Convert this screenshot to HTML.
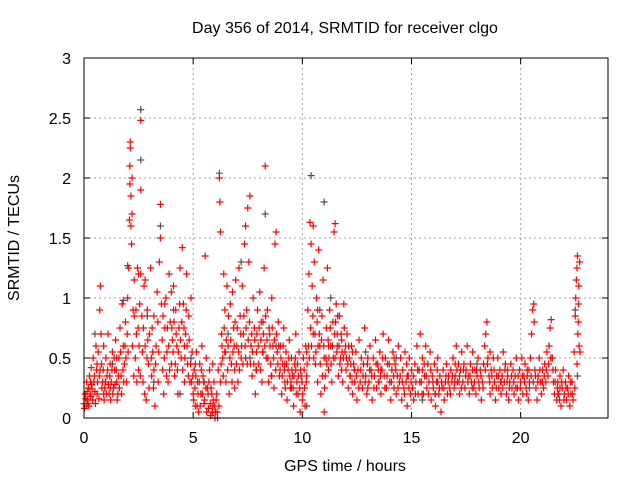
<!DOCTYPE html>
<html><head><meta charset="utf-8">
<style>
body{margin:0;background:#fff;}
svg text{font-family:"Liberation Sans",sans-serif;font-size:16px;fill:#000;}
</style></head>
<body>
<svg id="chart" width="640" height="480" viewBox="0 0 640 480" xmlns="http://www.w3.org/2000/svg">
<rect width="640" height="480" fill="#fff"/>
<text x="345" y="33" text-anchor="middle">Day 356 of 2014, SRMTID for receiver clgo</text>
<text x="345" y="471" text-anchor="middle">GPS time / hours</text>
<text transform="translate(19,238) rotate(-90)" text-anchor="middle">SRMTID / TECUs</text>
<g id="grid"></g>
<g id="gray"></g>
<g id="red"></g>
<g id="axes"></g>
</svg>
<script>
const xTicks=[0,5,10,15,20];
const yTicks=[0,0.5,1,1.5,2,2.5,3];
const yTickLabels=["0","0.5","1","1.5","2","2.5","3"];
const grayData=[[2.6,2.57],[2.6,2.15],[2.0,1.27],[1.8,0.98],[2.9,0.85],[3.5,1.6],[4.1,0.9],[4.9,0.5],[5.5,0.3],[6.2,2.04],[6.6,0.7],[7.2,1.3],[7.6,0.5],[8.3,1.7],[8.8,0.6],[10.4,2.02],[11.0,1.8],[10.8,0.9],[11.3,1.0],[11.6,0.6],[12.4,0.4],[13.5,0.3],[14.3,0.5],[16.1,0.2],[17.2,0.35],[19.1,0.3],[20.4,0.25],[21.7,0.2],[22.5,0.9],[22.6,0.35],[0.5,0.7],[1.3,0.45],[3.2,0.3],[4.4,0.2],[5.9,0.05],[9.5,0.25],[10.2,0.1],[12.9,0.55],[15.5,0.15],[18.0,0.45]];
const redData=[
[0.0,0.12],[0.05,0.2],[0.1,0.1],[0.12,0.3],[0.15,0.15],[0.2,0.25],[0.22,0.1],[0.25,0.35],[0.3,0.18],[0.33,0.42],[0.35,0.28],[0.4,0.15],[0.42,0.5],[0.45,0.3],[0.5,0.22],[0.55,0.6],[0.58,0.4],[0.6,0.2],[0.65,0.55],[0.7,0.35],[0.72,0.9],[0.75,1.1],[0.78,0.7],[0.8,0.45],[0.85,0.3],[0.9,0.6],[0.95,0.25],[1.0,0.5],[1.05,0.35],[1.1,0.7],[1.15,0.2],[1.2,0.45],[1.25,0.3],[1.3,0.55],[1.35,0.25],[1.4,0.4],[1.45,0.65],[1.5,0.3],[1.55,0.2],[1.6,0.5],[1.65,0.75],[1.7,0.35],[1.75,0.95],[1.8,0.6],[1.85,0.45],[1.9,0.8],[1.95,0.3],[2.0,1.0],[2.05,1.25],[2.08,1.65],[2.1,1.95],[2.1,2.1],[2.12,2.25],[2.12,2.3],[2.15,1.85],[2.15,1.6],[2.18,1.45],[2.2,2.0],[2.2,1.7],[2.25,0.9],[2.3,1.15],[2.35,0.5],[2.4,0.7],[2.45,1.25],[2.5,0.4],[2.55,0.95],[2.6,2.48],[2.6,1.9],[2.6,1.2],[2.65,0.85],[2.7,0.3],[2.75,1.1],[2.8,0.6],[2.85,0.15],[2.9,0.9],[2.95,0.45],[3.0,0.7],[3.05,1.25],[3.1,0.35],[3.15,0.55],[3.2,0.85],[3.25,0.1],[3.3,0.6],[3.35,1.05],[3.4,0.3],[3.45,1.3],[3.5,1.78],[3.5,1.5],[3.55,0.95],[3.6,0.4],[3.65,0.2],[3.7,0.75],[3.75,1.0],[3.8,0.55],[3.85,0.3],[3.9,1.2],[3.95,0.8],[4.0,0.45],[4.05,0.65],[4.1,1.1],[4.15,0.35],[4.2,0.9],[4.25,0.6],[4.3,0.2],[4.35,0.75],[4.4,1.25],[4.45,0.5],[4.5,1.42],[4.55,0.95],[4.6,0.3],[4.65,0.7],[4.7,1.2],[4.75,0.45],[4.8,0.85],[4.85,0.3],[4.9,1.0],[4.95,0.55],[5.0,0.2],[5.05,0.4],[5.1,0.1],[5.15,0.55],[5.2,0.3],[5.25,0.05],[5.3,0.45],[5.35,0.2],[5.4,0.6],[5.45,0.35],[5.5,0.12],[5.55,1.35],[5.6,0.5],[5.65,0.25],[5.7,0.08],[5.75,0.4],[5.8,0.02],[5.85,0.2],[5.9,0.1],[5.95,0.3],[6.0,0.0],[6.05,0.15],[6.1,0.05],[6.15,0.4],[6.2,2.0],[6.22,1.8],[6.25,1.55],[6.25,0.3],[6.3,0.7],[6.35,0.5],[6.4,1.2],[6.45,0.9],[6.5,0.3],[6.55,1.1],[6.6,0.6],[6.65,0.2],[6.7,0.95],[6.75,0.45],[6.8,1.05],[6.85,0.75],[6.9,0.4],[6.95,1.15],[7.0,0.6],[7.05,0.3],[7.1,1.25],[7.15,0.85],[7.2,0.5],[7.25,1.1],[7.3,0.7],[7.35,1.45],[7.4,1.6],[7.45,0.9],[7.5,1.75],[7.55,1.3],[7.6,1.85],[7.65,0.6],[7.7,0.35],[7.75,1.0],[7.8,0.75],[7.85,0.2],[7.9,0.55],[7.95,0.9],[8.0,0.45],[8.05,1.05],[8.1,0.65],[8.15,0.3],[8.2,0.8],[8.25,1.25],[8.3,2.1],[8.35,0.5],[8.4,0.9],[8.45,0.3],[8.5,0.7],[8.55,0.45],[8.6,1.0],[8.65,0.6],[8.7,0.25],[8.75,1.45],[8.8,1.55],[8.85,0.55],[8.9,0.8],[8.95,0.35],[9.0,0.6],[9.05,0.2],[9.1,0.45],[9.15,0.75],[9.2,0.3],[9.25,0.55],[9.3,0.15],[9.35,0.4],[9.4,0.65],[9.45,0.25],[9.5,0.5],[9.55,0.35],[9.6,0.1],[9.65,0.45],[9.7,0.7],[9.75,0.3],[9.8,0.2],[9.85,0.55],[9.9,0.05],[9.95,0.35],[10.0,0.15],[10.05,0.5],[10.1,0.25],[10.15,0.6],[10.2,0.35],[10.25,0.9],[10.3,1.2],[10.35,1.63],[10.4,1.45],[10.45,1.1],[10.5,1.6],[10.5,0.7],[10.55,1.3],[10.6,0.45],[10.65,1.0],[10.7,0.3],[10.75,1.4],[10.8,0.6],[10.85,0.2],[10.9,0.85],[10.95,1.15],[11.0,0.5],[11.0,0.05],[11.05,0.35],[11.1,0.75],[11.15,1.25],[11.2,0.4],[11.25,0.9],[11.3,0.6],[11.35,0.3],[11.4,0.8],[11.45,1.55],[11.5,1.62],[11.5,0.5],[11.55,0.95],[11.6,0.7],[11.65,0.35],[11.7,0.85],[11.75,0.5],[11.8,0.65],[11.85,0.3],[11.9,0.95],[11.95,0.55],[12.0,0.4],[12.05,0.7],[12.1,0.25],[12.15,0.5],[12.2,0.35],[12.25,0.6],[12.3,0.2],[12.35,0.45],[12.4,0.3],[12.45,0.55],[12.5,0.15],[12.55,0.4],[12.6,0.65],[12.65,0.3],[12.7,0.5],[12.75,0.25],[12.8,0.45],[12.85,0.75],[12.9,0.35],[12.95,0.2],[13.0,0.5],[13.05,0.3],[13.1,0.6],[13.15,0.4],[13.2,0.15],[13.25,0.5],[13.3,0.35],[13.35,0.65],[13.4,0.25],[13.45,0.45],[13.5,0.3],[13.55,0.55],[13.6,0.2],[13.65,0.4],[13.7,0.7],[13.75,0.35],[13.8,0.5],[13.85,0.25],[13.9,0.45],[13.95,0.65],[14.0,0.3],[14.05,0.15],[14.1,0.4],[14.15,0.55],[14.2,0.25],[14.25,0.45],[14.3,0.2],[14.35,0.35],[14.4,0.6],[14.45,0.3],[14.5,0.5],[14.55,0.15],[14.6,0.4],[14.65,0.25],[14.7,0.55],[14.75,0.3],[14.8,0.1],[14.85,0.35],[14.9,0.5],[14.95,0.2],[15.0,0.4],[15.05,0.25],[15.1,0.15],[15.15,0.45],[15.2,0.3],[15.25,0.6],[15.3,0.2],[15.35,0.4],[15.4,0.7],[15.45,0.3],[15.5,0.5],[15.55,0.2],[15.6,0.35],[15.65,0.6],[15.7,0.25],[15.75,0.45],[15.8,0.3],[15.85,0.55],[15.9,0.15],[15.95,0.35],[16.0,0.25],[16.05,0.45],[16.1,0.1],[16.15,0.3],[16.2,0.5],[16.25,0.2],[16.3,0.35],[16.35,0.05],[16.4,0.25],[16.45,0.4],[16.5,0.15],[16.55,0.3],[16.6,0.45],[16.65,0.2],[16.7,0.35],[16.75,0.25],[16.8,0.4],[16.85,0.3],[16.9,0.5],[16.95,0.25],[17.0,0.35],[17.05,0.6],[17.1,0.3],[17.15,0.45],[17.2,0.2],[17.25,0.4],[17.3,0.55],[17.35,0.3],[17.4,0.45],[17.45,0.25],[17.5,0.4],[17.55,0.6],[17.6,0.35],[17.65,0.2],[17.7,0.45],[17.75,0.3],[17.8,0.55],[17.85,0.25],[17.9,0.4],[17.95,0.2],[18.0,0.35],[18.05,0.5],[18.1,0.25],[18.15,0.4],[18.2,0.15],[18.25,0.3],[18.3,0.45],[18.35,0.6],[18.4,0.7],[18.45,0.8],[18.5,0.5],[18.55,0.35],[18.6,0.2],[18.65,0.4],[18.7,0.25],[18.75,0.5],[18.8,0.3],[18.85,0.15],[18.9,0.35],[18.95,0.5],[19.0,0.25],[19.05,0.4],[19.1,0.2],[19.15,0.35],[19.2,0.55],[19.25,0.3],[19.3,0.45],[19.35,0.2],[19.4,0.35],[19.45,0.15],[19.5,0.3],[19.55,0.45],[19.6,0.25],[19.65,0.4],[19.7,0.2],[19.75,0.35],[19.8,0.5],[19.85,0.25],[19.9,0.15],[19.95,0.4],[20.0,0.3],[20.05,0.5],[20.1,0.2],[20.15,0.35],[20.2,0.45],[20.25,0.25],[20.3,0.4],[20.35,0.15],[20.4,0.3],[20.45,0.5],[20.5,0.7],[20.55,0.9],[20.6,0.95],[20.62,0.8],[20.65,0.4],[20.7,0.25],[20.75,0.15],[20.8,0.35],[20.85,0.5],[20.9,0.3],[20.95,0.2],[21.0,0.4],[21.05,0.25],[21.1,0.45],[21.15,0.3],[21.2,0.55],[21.25,0.35],[21.3,0.6],[21.35,0.75],[21.4,0.82],[21.45,0.5],[21.5,0.3],[21.55,0.2],[21.6,0.4],[21.65,0.15],[21.7,0.3],[21.75,0.2],[21.8,0.35],[21.85,0.1],[21.9,0.25],[21.95,0.4],[22.0,0.2],[22.05,0.3],[22.1,0.15],[22.15,0.25],[22.2,0.35],[22.25,0.1],[22.3,0.2],[22.35,0.3],[22.4,0.15],[22.45,0.55],[22.5,0.85],[22.52,1.0],[22.55,1.15],[22.58,1.25],[22.6,1.35],[22.62,0.7],[22.65,0.95],[22.68,0.6],[22.7,1.3],
[0.3,0.3],[0.6,0.45],[0.9,0.2],[1.2,0.25],[1.5,0.5],[2.3,0.85],[2.5,1.2],[2.8,1.15],[3.2,0.4],[3.7,0.95],[4.0,1.05],[4.6,0.6],[5.1,0.45],[5.9,0.45],[6.45,0.55],[6.9,0.25],[7.4,0.5],[7.9,0.4],[8.2,0.55],[8.6,0.35],[9.2,0.45],[9.7,0.4],[10.2,0.55],[10.7,0.9],[11.2,0.6],[11.8,0.4],[12.3,0.55],[13.0,0.25],[13.6,0.4],[14.2,0.5],[14.8,0.35],[15.5,0.4],[16.2,0.3],[17.0,0.45],[17.8,0.4],[18.6,0.55],[19.4,0.4],[20.3,0.35],[21.0,0.3],[21.8,0.25]
];
const redData2=[
[0.02,0.08],[0.08,0.16],[0.14,0.22],[0.18,0.12],[0.28,0.2],[0.37,0.24],[0.48,0.35],[0.52,0.12],[0.62,0.3],[0.68,0.16],[0.74,0.4],[0.82,0.25],[0.88,0.4],[0.92,0.15],[0.98,0.3],[1.02,0.2],[1.08,0.4],[1.12,0.28],[1.18,0.35],[1.22,0.15],[1.28,0.4],[1.32,0.2],[1.38,0.5],[1.42,0.28],[1.48,0.4],[1.52,0.15],[1.58,0.35],[1.62,0.25],[1.68,0.55],[1.72,0.2],[1.78,0.4],[1.82,0.3],[1.88,0.6],[1.92,0.5],[1.98,0.7],[2.02,0.55],[2.22,0.6],[2.28,0.35],[2.38,0.9],[2.42,0.3],[2.48,0.75],[2.52,0.6],[2.58,0.35],[2.68,0.55],[2.72,0.75],[2.78,0.2],[2.88,0.5],[2.92,0.65],[2.98,0.25],[3.08,0.5],[3.12,0.75],[3.18,0.25],[3.28,0.45],[3.38,0.8],[3.42,0.55],[3.58,0.65],[3.62,0.85],[3.68,0.5],[3.78,0.35],[3.82,0.75],[3.88,0.6],[3.92,0.4],[4.02,0.75],[4.08,0.55],[4.12,0.8],[4.18,0.45],[4.22,0.7],[4.28,0.4],[4.32,0.55],[4.38,0.95],[4.42,0.65],[4.48,0.8],[4.52,0.4],[4.58,0.75],[4.62,0.5],[4.68,0.9],[4.72,0.6],[4.78,0.35],[4.82,0.65],[4.88,0.45],[4.92,0.3],[4.98,0.35],[5.02,0.15],[5.08,0.25],[5.12,0.35],[5.18,0.1],[5.22,0.2],[5.28,0.3],[5.32,0.1],[5.38,0.4],[5.42,0.2],[5.48,0.3],[5.52,0.15],[5.58,0.25],[5.62,0.05],[5.68,0.2],[5.72,0.3],[5.78,0.12],[5.82,0.25],[5.88,0.05],[5.92,0.15],[5.98,0.1],[6.02,0.05],[6.08,0.2],[6.12,0.0],[6.18,0.1],[6.28,0.45],[6.32,0.6],[6.38,0.35],[6.42,0.75],[6.48,0.55],[6.52,0.65],[6.58,0.4],[6.62,0.85],[6.68,0.5],[6.72,0.65],[6.78,0.3],[6.82,0.55],[6.88,0.6],[6.92,0.8],[6.98,0.45],[7.02,0.75],[7.08,0.55],[7.12,0.4],[7.18,0.7],[7.22,0.6],[7.28,0.45],[7.32,0.85],[7.38,0.6],[7.42,0.75],[7.48,0.45],[7.52,0.65],[7.58,0.8],[7.62,0.45],[7.68,0.7],[7.72,0.55],[7.78,0.45],[7.82,0.65],[7.88,0.4],[7.92,0.7],[7.98,0.6],[8.02,0.75],[8.08,0.4],[8.12,0.8],[8.18,0.55],[8.22,0.7],[8.28,0.6],[8.32,0.85],[8.38,0.65],[8.42,0.5],[8.48,0.75],[8.52,0.6],[8.58,0.35],[8.62,0.75],[8.68,0.5],[8.72,0.65],[8.78,0.4],[8.82,0.7],[8.88,0.45],[8.92,0.6],[8.98,0.4],[9.02,0.5],[9.08,0.35],[9.12,0.6],[9.18,0.4],[9.22,0.25],[9.28,0.45],[9.32,0.3],[9.38,0.5],[9.42,0.35],[9.48,0.3],[9.52,0.4],[9.58,0.25],[9.62,0.35],[9.68,0.5],[9.72,0.2],[9.78,0.45],[9.82,0.35],[9.88,0.25],[9.92,0.4],[9.98,0.3],[10.02,0.2],[10.08,0.4],[10.12,0.1],[10.18,0.3],[10.22,0.45],[10.28,0.6],[10.32,0.5],[10.38,0.75],[10.42,0.6],[10.48,0.85],[10.52,0.5],[10.58,0.7],[10.62,0.55],[10.68,0.8],[10.72,0.6],[10.78,0.7],[10.82,0.45],[10.88,0.65],[10.92,0.35],[10.98,0.6],[11.02,0.25],[11.08,0.5],[11.12,0.45],[11.18,0.65],[11.22,0.5],[11.28,0.75],[11.32,0.45],[11.38,0.6],[11.42,0.5],[11.48,0.7],[11.52,0.8],[11.58,0.55],[11.62,0.85],[11.68,0.6],[11.72,0.45],[11.78,0.7],[11.82,0.55],[11.88,0.5],[11.92,0.75],[11.98,0.6],[12.02,0.5],[12.08,0.45],[12.12,0.6],[12.18,0.35],[12.22,0.45],[12.28,0.3],[12.38,0.4],[12.48,0.35],[12.58,0.25],[12.68,0.4],[12.78,0.35],[12.88,0.3],[12.98,0.45],[13.08,0.4],[13.18,0.35],[13.28,0.25],[13.38,0.45],[13.48,0.4],[13.58,0.35],[13.68,0.5],[13.78,0.25],[13.88,0.35],[13.98,0.45],[14.08,0.3],[14.18,0.35],[14.28,0.4],[14.38,0.25],[14.48,0.35],[14.58,0.3],[14.68,0.2],[14.78,0.45],[14.88,0.25],[14.98,0.3],[15.08,0.35],[15.18,0.2],[15.28,0.4],[15.38,0.3],[15.48,0.2],[15.58,0.45],[15.68,0.35],[15.78,0.2],[15.88,0.4],[15.98,0.3],[16.08,0.2],[16.18,0.4],[16.28,0.25],[16.38,0.3],[16.48,0.25],[16.58,0.35],[16.68,0.3],[16.78,0.2],[16.88,0.35],[16.98,0.3],[17.08,0.4],[17.18,0.3],[17.28,0.25],[17.38,0.4],[17.48,0.35],[17.58,0.3],[17.68,0.35],[17.78,0.25],[17.88,0.3],[17.98,0.4],[18.08,0.3],[18.18,0.35],[18.28,0.25],[18.38,0.4],[18.48,0.45],[18.58,0.3],[18.68,0.35],[18.78,0.4],[18.88,0.25],[18.98,0.35],[19.08,0.3],[19.18,0.25],[19.28,0.4],[19.38,0.3],[19.48,0.25],[19.58,0.35],[19.68,0.3],[19.78,0.25],[19.88,0.35],[19.98,0.25],[20.08,0.35],[20.18,0.3],[20.28,0.2],[20.38,0.4],[20.48,0.35],[20.58,0.3],[20.68,0.35],[20.78,0.3],[20.88,0.4],[20.98,0.3],[21.08,0.35],[21.18,0.4],[21.28,0.45],[21.38,0.5],[21.48,0.4],[21.58,0.3],[21.68,0.25],[21.78,0.15],[21.88,0.3],[21.98,0.15],[22.08,0.25],[22.18,0.2],[22.28,0.3],[22.38,0.2],[22.48,0.25],[22.58,0.45],[22.64,0.8],[22.66,1.1],[22.72,0.55]
];
const NS="http://www.w3.org/2000/svg";
const L=84,R=608,T=58,B=418;
function xs(v){return L+v/24*(R-L);}
function ys(v){return B-v/3*(B-T);}
const grid=document.getElementById('grid');
const axes=document.getElementById('axes');
function mk(tag,attrs,parent){const e=document.createElementNS(NS,tag);for(const k in attrs)e.setAttribute(k,attrs[k]);parent.appendChild(e);return e;}
xTicks.forEach(function(t){
  const x=xs(t);
  if(t>0){const g=mk('line',{x1:x,x2:x,y1:T,y2:B,stroke:'#a0a0a0','stroke-dasharray':'2,3'},grid);
  
  }
  mk('line',{x1:x,x2:x,y1:B,y2:B-6,stroke:'#000'},axes);
  mk('line',{x1:x,x2:x,y1:T,y2:T+6,stroke:'#000'},axes);
  const tx=mk('text',{x:x,y:B+25,'text-anchor':'middle'},axes);tx.textContent=t;
  
  
});
yTicks.forEach(function(t,i){
  const y=ys(t);
  if(t>0&&t<3){const g=mk('line',{x1:L,x2:R,y1:y,y2:y,stroke:'#a0a0a0','stroke-dasharray':'2,3'},grid);
  
  }
  mk('line',{x1:L,x2:L+6,y1:y,y2:y,stroke:'#000'},axes);
  mk('line',{x1:R,x2:R-6,y1:y,y2:y,stroke:'#000'},axes);
  const tx=mk('text',{x:L-13,y:y+6,'text-anchor':'end'},axes);tx.textContent=yTickLabels[i];
  
  
});
const frame=mk('rect',{x:L,y:T,width:R-L,height:B-T,fill:'none',stroke:'#000'},axes);


function plotPts(data,g,color,name){
  let d='';
  data.forEach(function(p){const x=xs(p[0]),y=ys(p[1]);d+='M'+(x-3.5)+' '+y+'h7M'+x+' '+(y-3.5)+'v7';});
  const pth=mk('path',{d:d,stroke:color,'stroke-width':1.2,fill:'none'},g);
  
  
}
plotPts(grayData,document.getElementById('gray'),'#505050','gray-points');
plotPts(redData,document.getElementById('red'),'#ff0000','red-points');
plotPts(redData2,document.getElementById('red'),'#ff0000','red-points-extra');
</script>
</body></html>
